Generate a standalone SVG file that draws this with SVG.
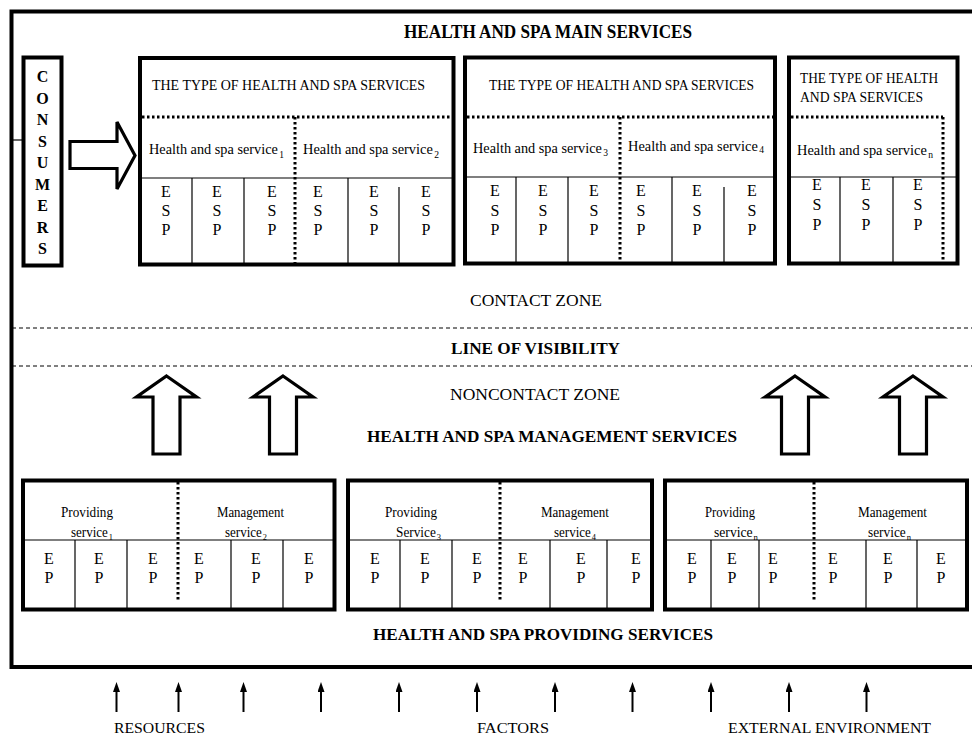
<svg xmlns="http://www.w3.org/2000/svg" width="972" height="735" viewBox="0 0 972 735">
  <defs>
    <style>
      .frame { fill: none; stroke: #000; stroke-width: 4; }
      .box { fill: #fff; stroke: #000; stroke-width: 4; }
      .thin { stroke: #000; stroke-width: 1.2; fill: none; }
      .dot { stroke: #000; stroke-width: 3; stroke-dasharray: 2.5 2.5; fill: none; }
      .dash { stroke: #000; stroke-width: 1; stroke-dasharray: 4 3; fill: none; }
      .hollow { fill: #fff; stroke: #000; stroke-width: 3.2; stroke-linejoin: miter; }
      .src { stroke: #000; stroke-width: 2; fill: none; }
      text { font-family: "Liberation Serif", "Times New Roman", serif; fill: #000; }
      .bold { font-weight: bold; }
      .zone { font-size: 17px; }
      .head { font-size: 15px; }
      .svc { font-size: 15px; }
      .sub { font-size: 10px; }
      .cell { font-size: 16px; text-anchor: middle; }
      .psvc { font-size: 14px; }
      .psub { font-size: 9px; }
      .cons { font-size: 16px; font-weight: bold; text-anchor: middle; }
    </style>
    <marker id="tip" markerWidth="10" markerHeight="7" refX="0" refY="3.5" orient="auto" markerUnits="userSpaceOnUse">
      <path d="M0,0 L10,3.5 L0,7 Z" fill="#000"/>
    </marker>
    <path id="upArrow" class="hollow" d="M0,0 L30,21 L13.5,21 L13.5,78 L-13.5,78 L-13.5,21 L-30,21 Z"/>
  </defs>

  <!-- outer frame, open on the right -->
  <g id="frame">
    <path class="frame" d="M980,11.5 H11.5 V667 H980"/>
  </g>

  <!-- titles and zones -->
  <g id="titles">
    <text class="bold" x="404" y="38" font-size="18" textLength="288" lengthAdjust="spacingAndGlyphs">HEALTH AND SPA MAIN SERVICES</text>
    <text class="zone" x="470" y="306" textLength="132" lengthAdjust="spacingAndGlyphs">CONTACT ZONE</text>
    <text class="zone bold" x="451" y="354" textLength="169" lengthAdjust="spacingAndGlyphs">LINE OF VISIBILITY</text>
    <text class="zone" x="450" y="400" textLength="170" lengthAdjust="spacingAndGlyphs">NONCONTACT ZONE</text>
    <text class="zone bold" x="367" y="442" textLength="370" lengthAdjust="spacingAndGlyphs">HEALTH AND SPA MANAGEMENT SERVICES</text>
    <text class="zone bold" x="373" y="640" textLength="340" lengthAdjust="spacingAndGlyphs">HEALTH AND SPA PROVIDING SERVICES</text>
  </g>

  <!-- visibility lines -->
  <g id="visibility-lines">
    <line class="dash" x1="12" y1="328" x2="972" y2="328"/>
    <line class="dash" x1="12" y1="366" x2="972" y2="366"/>
  </g>

  <!-- consumers column -->
  <g id="consumers">
    <rect class="box" x="23.5" y="57.5" width="38" height="208" stroke-width="3"/>
    <text class="cons" x="42.5" y="82">C</text>
    <text class="cons" x="42.5" y="103.5">O</text>
    <text class="cons" x="42.5" y="125">N</text>
    <text class="cons" x="42.5" y="146.5">S</text>
    <text class="cons" x="42.5" y="168">U</text>
    <text class="cons" x="42.5" y="189.5">M</text>
    <text class="cons" x="42.5" y="211">E</text>
    <text class="cons" x="42.5" y="232.5">R</text>
    <text class="cons" x="42.5" y="254">S</text>
  </g>

  <!-- main service box 1 -->
  <g id="main-box-1">
    <rect class="box" x="140" y="58" width="313.5" height="206.5"/>
    <text class="head" x="152" y="90" textLength="273" lengthAdjust="spacingAndGlyphs">THE TYPE OF HEALTH AND SPA SERVICES</text>
    <line class="dot" x1="142" y1="117" x2="452" y2="117"/>
    <line class="dot" x1="295" y1="117" x2="295" y2="263"/>
    <text class="svc" x="149" y="154" textLength="135" lengthAdjust="spacingAndGlyphs">Health and spa service<tspan class="sub" dx="1.5" dy="4">1</tspan></text>
    <text class="svc" x="303" y="154" textLength="136" lengthAdjust="spacingAndGlyphs">Health and spa service<tspan class="sub" dx="1.5" dy="4">2</tspan></text>
    <line class="thin" x1="142" y1="178" x2="452" y2="178"/>
    <line class="thin" x1="192" y1="178" x2="192" y2="263"/>
    <line class="thin" x1="244" y1="178" x2="244" y2="263"/>
    <line class="thin" x1="348" y1="178" x2="348" y2="263"/>
    <line class="thin" x1="399" y1="187" x2="399" y2="263"/>
    <g class="esp">
      <text class="cell" x="166" y="197">E</text><text class="cell" x="166" y="216">S</text><text class="cell" x="166" y="235">P</text>
      <text class="cell" x="217" y="197">E</text><text class="cell" x="217" y="216">S</text><text class="cell" x="217" y="235">P</text>
      <text class="cell" x="272" y="197">E</text><text class="cell" x="272" y="216">S</text><text class="cell" x="272" y="235">P</text>
      <text class="cell" x="318" y="197">E</text><text class="cell" x="318" y="216">S</text><text class="cell" x="318" y="235">P</text>
      <text class="cell" x="374" y="197">E</text><text class="cell" x="374" y="216">S</text><text class="cell" x="374" y="235">P</text>
      <text class="cell" x="426" y="197">E</text><text class="cell" x="426" y="216">S</text><text class="cell" x="426" y="235">P</text>
    </g>
  </g>

  <!-- main service box 2 -->
  <g id="main-box-2">
    <rect class="box" x="465" y="57.5" width="310" height="206"/>
    <text class="head" x="489" y="90" textLength="265" lengthAdjust="spacingAndGlyphs">THE TYPE OF HEALTH AND SPA SERVICES</text>
    <line class="dot" x1="467" y1="117" x2="773" y2="117"/>
    <line class="dot" x1="620" y1="117" x2="620" y2="262"/>
    <text class="svc" x="473" y="152.5" textLength="135" lengthAdjust="spacingAndGlyphs">Health and spa service<tspan class="sub" dx="1.5" dy="3.5">3</tspan></text>
    <text class="svc" x="628" y="151" textLength="136" lengthAdjust="spacingAndGlyphs">Health and spa service<tspan class="sub" dx="1.5" dy="2">4</tspan></text>
    <line class="thin" x1="467" y1="177" x2="773" y2="177"/>
    <line class="thin" x1="516" y1="177" x2="516" y2="262"/>
    <line class="thin" x1="568" y1="177" x2="568" y2="262"/>
    <line class="thin" x1="672" y1="177" x2="672" y2="262"/>
    <line class="thin" x1="724" y1="187" x2="724" y2="262"/>
    <g class="esp">
      <text class="cell" x="495" y="196">E</text><text class="cell" x="495" y="215.5">S</text><text class="cell" x="495" y="235">P</text>
      <text class="cell" x="543" y="196">E</text><text class="cell" x="543" y="215.5">S</text><text class="cell" x="543" y="235">P</text>
      <text class="cell" x="594" y="196">E</text><text class="cell" x="594" y="215.5">S</text><text class="cell" x="594" y="235">P</text>
      <text class="cell" x="641" y="196">E</text><text class="cell" x="641" y="215.5">S</text><text class="cell" x="641" y="235">P</text>
      <text class="cell" x="697" y="196">E</text><text class="cell" x="697" y="215.5">S</text><text class="cell" x="697" y="235">P</text>
      <text class="cell" x="752" y="196">E</text><text class="cell" x="752" y="215.5">S</text><text class="cell" x="752" y="235">P</text>
    </g>
  </g>

  <!-- main service box n -->
  <g id="main-box-n">
    <rect class="box" x="789" y="57.5" width="168.5" height="206"/>
    <text class="head" x="800" y="83" textLength="138" lengthAdjust="spacingAndGlyphs">THE TYPE OF HEALTH</text>
    <text class="head" x="800" y="102" textLength="123" lengthAdjust="spacingAndGlyphs">AND SPA SERVICES</text>
    <line class="dot" x1="791" y1="117" x2="943" y2="117"/>
    <line class="dot" x1="943" y1="117" x2="943" y2="262"/>
    <text class="svc" x="797" y="155" textLength="136" lengthAdjust="spacingAndGlyphs">Health and spa service<tspan class="sub" dx="1.5" dy="3">n</tspan></text>
    <line class="thin" x1="791" y1="177" x2="956" y2="177"/>
    <line class="thin" x1="840" y1="177" x2="840" y2="262"/>
    <line class="thin" x1="893" y1="177" x2="893" y2="262"/>
    <g class="esp">
      <text class="cell" x="817" y="190">E</text><text class="cell" x="817" y="210">S</text><text class="cell" x="817" y="230">P</text>
      <text class="cell" x="866" y="190">E</text><text class="cell" x="866" y="210">S</text><text class="cell" x="866" y="230">P</text>
      <text class="cell" x="918" y="190">E</text><text class="cell" x="918" y="210">S</text><text class="cell" x="918" y="230">P</text>
    </g>
  </g>

  <!-- providing / management box 1 -->
  <g id="prov-box-1">
    <rect class="box" x="23" y="480.5" width="311.5" height="129"/>
    <line class="dot" x1="178" y1="482" x2="178" y2="602"/>
    <text class="psvc" x="61" y="517" textLength="52" lengthAdjust="spacingAndGlyphs">Providing</text>
    <text class="psvc" x="71" y="536.5" textLength="42" lengthAdjust="spacingAndGlyphs">service<tspan class="psub" dx="1" dy="3.5">1</tspan></text>
    <text class="psvc" x="217" y="517" textLength="67" lengthAdjust="spacingAndGlyphs">Management</text>
    <text class="psvc" x="225" y="536.5" textLength="42" lengthAdjust="spacingAndGlyphs">service<tspan class="psub" dx="1" dy="3.5">2</tspan></text>
    <line class="thin" x1="25" y1="540" x2="333" y2="540"/>
    <line class="thin" x1="75" y1="540" x2="75" y2="608"/>
    <line class="thin" x1="127" y1="540" x2="127" y2="608"/>
    <line class="thin" x1="231" y1="540" x2="231" y2="608"/>
    <line class="thin" x1="283" y1="540" x2="283" y2="608"/>
    <g class="ep">
      <text class="cell" x="49" y="563.5">E</text><text class="cell" x="49" y="583">P</text>
      <text class="cell" x="99" y="563.5">E</text><text class="cell" x="99" y="583">P</text>
      <text class="cell" x="153" y="563.5">E</text><text class="cell" x="153" y="583">P</text>
      <text class="cell" x="199" y="563.5">E</text><text class="cell" x="199" y="583">P</text>
      <text class="cell" x="256" y="563.5">E</text><text class="cell" x="256" y="583">P</text>
      <text class="cell" x="309" y="563.5">E</text><text class="cell" x="309" y="583">P</text>
    </g>
  </g>

  <!-- providing / management box 2 -->
  <g id="prov-box-2">
    <rect class="box" x="348" y="480.5" width="304" height="129"/>
    <line class="dot" x1="500" y1="482" x2="500" y2="602"/>
    <text class="psvc" x="385" y="517" textLength="52" lengthAdjust="spacingAndGlyphs">Providing</text>
    <text class="psvc" x="396" y="536.5" textLength="45" lengthAdjust="spacingAndGlyphs">Service<tspan class="psub" dx="1" dy="3.5">3</tspan></text>
    <text class="psvc" x="541" y="517" textLength="68" lengthAdjust="spacingAndGlyphs">Management</text>
    <text class="psvc" x="554" y="536.5" textLength="42" lengthAdjust="spacingAndGlyphs">service<tspan class="psub" dx="1" dy="3.5">4</tspan></text>
    <line class="thin" x1="350" y1="540" x2="650" y2="540"/>
    <line class="thin" x1="400" y1="540" x2="400" y2="608"/>
    <line class="thin" x1="452" y1="540" x2="452" y2="608"/>
    <line class="thin" x1="550" y1="540" x2="550" y2="608"/>
    <line class="thin" x1="607" y1="540" x2="607" y2="608"/>
    <g class="ep">
      <text class="cell" x="375" y="563.5">E</text><text class="cell" x="375" y="583">P</text>
      <text class="cell" x="425" y="563.5">E</text><text class="cell" x="425" y="583">P</text>
      <text class="cell" x="477" y="563.5">E</text><text class="cell" x="477" y="583">P</text>
      <text class="cell" x="523" y="563.5">E</text><text class="cell" x="523" y="583">P</text>
      <text class="cell" x="581" y="563.5">E</text><text class="cell" x="581" y="583">P</text>
      <text class="cell" x="636" y="563.5">E</text><text class="cell" x="636" y="583">P</text>
    </g>
  </g>

  <!-- providing / management box n -->
  <g id="prov-box-n">
    <rect class="box" x="665" y="480.5" width="302" height="129"/>
    <line class="dot" x1="814" y1="482" x2="814" y2="602"/>
    <text class="psvc" x="705" y="517" textLength="50" lengthAdjust="spacingAndGlyphs">Providing</text>
    <text class="psvc" x="714" y="536.5" textLength="44" lengthAdjust="spacingAndGlyphs">service<tspan class="psub" dx="1" dy="3.5">n</tspan></text>
    <text class="psvc" x="858" y="517" textLength="69" lengthAdjust="spacingAndGlyphs">Management</text>
    <text class="psvc" x="868" y="536.5" textLength="43" lengthAdjust="spacingAndGlyphs">service<tspan class="psub" dx="1" dy="3.5">n</tspan></text>
    <line class="thin" x1="667" y1="540" x2="965" y2="540"/>
    <line class="thin" x1="711" y1="540" x2="711" y2="608"/>
    <line class="thin" x1="759" y1="540" x2="759" y2="608"/>
    <line class="thin" x1="866" y1="540" x2="866" y2="608"/>
    <line class="thin" x1="917" y1="540" x2="917" y2="608"/>
    <g class="ep">
      <text class="cell" x="692" y="563.5">E</text><text class="cell" x="692" y="583">P</text>
      <text class="cell" x="732" y="563.5">E</text><text class="cell" x="732" y="583">P</text>
      <text class="cell" x="773" y="563.5">E</text><text class="cell" x="773" y="583">P</text>
      <text class="cell" x="833" y="563.5">E</text><text class="cell" x="833" y="583">P</text>
      <text class="cell" x="888" y="563.5">E</text><text class="cell" x="888" y="583">P</text>
      <text class="cell" x="941" y="563.5">E</text><text class="cell" x="941" y="583">P</text>
    </g>
  </g>

  <!-- connectors: flows between levels -->
  <g id="connectors">
    <line class="thin" x1="12" y1="140" x2="23" y2="140"/>
    <path class="hollow" d="M70,141.5 H117 V122 L135,155.5 L117,189 V168.5 H70 Z"/>
    <use href="#upArrow" x="166.5" y="376"/>
    <use href="#upArrow" x="283" y="376"/>
    <use href="#upArrow" x="795" y="376"/>
    <use href="#upArrow" x="913" y="376"/>
    <g class="inputs">
      <line class="src" x1="116.5" y1="712" x2="116.5" y2="692" marker-end="url(#tip)"/>
      <line class="src" x1="178.5" y1="712" x2="178.5" y2="692" marker-end="url(#tip)"/>
      <line class="src" x1="243.5" y1="712" x2="243.5" y2="692" marker-end="url(#tip)"/>
      <line class="src" x1="321" y1="712" x2="321" y2="692" marker-end="url(#tip)"/>
      <line class="src" x1="399" y1="712" x2="399" y2="692" marker-end="url(#tip)"/>
      <line class="src" x1="477" y1="712" x2="477" y2="692" marker-end="url(#tip)"/>
      <line class="src" x1="555" y1="712" x2="555" y2="692" marker-end="url(#tip)"/>
      <line class="src" x1="632.5" y1="712" x2="632.5" y2="692" marker-end="url(#tip)"/>
      <line class="src" x1="711" y1="712" x2="711" y2="692" marker-end="url(#tip)"/>
      <line class="src" x1="789" y1="712" x2="789" y2="692" marker-end="url(#tip)"/>
      <line class="src" x1="866.5" y1="712" x2="866.5" y2="692" marker-end="url(#tip)"/>
    </g>
  </g>

  <!-- external inputs -->
  <g id="input-labels">
    <text x="114" y="733" font-size="15" textLength="91" lengthAdjust="spacingAndGlyphs">RESOURCES</text>
    <text x="477" y="733" font-size="15" textLength="72" lengthAdjust="spacingAndGlyphs">FACTORS</text>
    <text x="728" y="733" font-size="15" textLength="203" lengthAdjust="spacingAndGlyphs">EXTERNAL ENVIRONMENT</text>
  </g>
</svg>
